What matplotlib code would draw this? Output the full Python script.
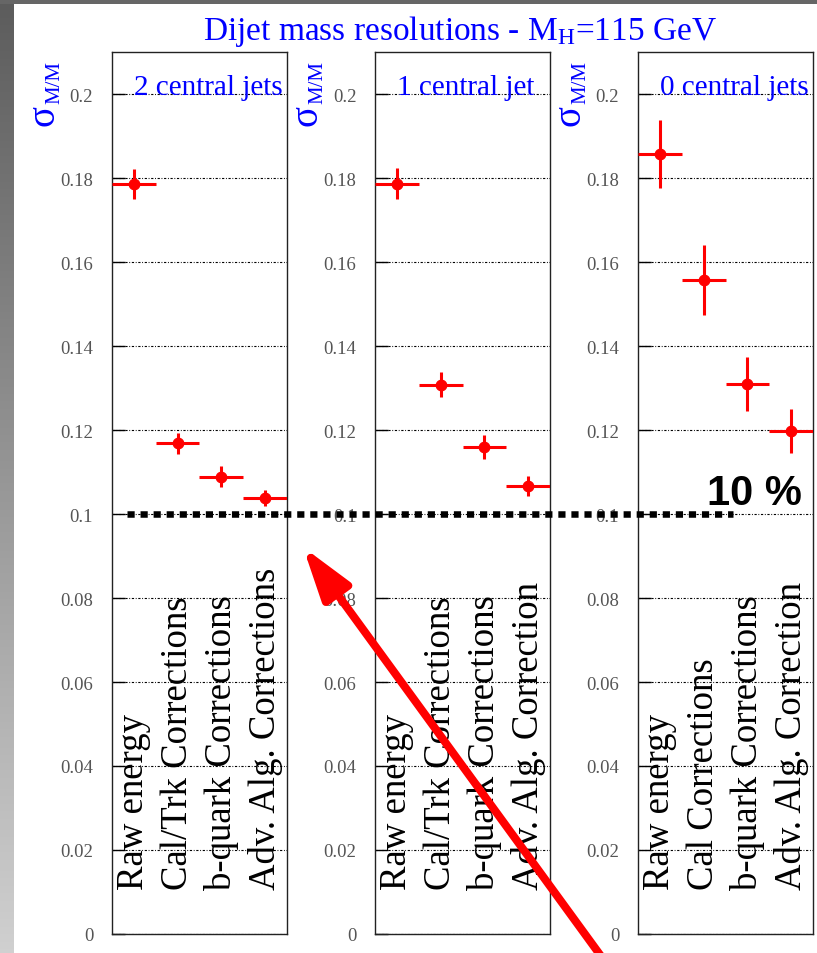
import numpy as np
import matplotlib

matplotlib.use("Agg")
import matplotlib.pyplot as plt
from matplotlib.lines import Line2D
from matplotlib.patches import FancyArrowPatch, Rectangle
from matplotlib.transforms import IdentityTransform
from matplotlib.colors import LinearSegmentedColormap

plt.rcParams["font.family"] = ["Liberation Serif", "DejaVu Serif"]
plt.rcParams["mathtext.fontset"] = "custom"
plt.rcParams["mathtext.rm"] = "Liberation Serif"
plt.rcParams["mathtext.it"] = "Liberation Serif"

# resolution sigma_M/M after each correction step, per jet topology
panel_titles = ["2 central jets", "1 central jet", "0 central jets"]

steps_2jets = ["Raw energy", "Cal/Trk Corrections", "b-quark Corrections", "Adv. Alg. Corrections"]
steps_1jet = ["Raw energy", "Cal/Trk Corrections", "b-quark Corrections", "Adv. Alg. Correction"]
steps_0jets = ["Raw energy", "Cal Corrections", "b-quark Corrections", "Adv. Alg. Correction"]

res_2jets = [0.1786, 0.1168, 0.1089, 0.1038]
err_2jets = [0.0036, 0.0025, 0.0025, 0.0020]

res_1jet = [0.1786, 0.1308, 0.1160, 0.1067]
err_1jet = [0.0037, 0.0030, 0.0029, 0.0024]

res_0jets = [0.1857, 0.1557, 0.1310, 0.1198]
err_0jets = [0.0081, 0.0083, 0.0064, 0.0052]

y_ticks = [0, 0.02, 0.04, 0.06, 0.08, 0.1, 0.12, 0.14, 0.16, 0.18, 0.2]
y_ticklabels = ["0", "0.02", "0.04", "0.06", "0.08", "0.1", "0.12", "0.14", "0.16", "0.18", "0.2"]
threshold = 0.1
threshold_label = "10 %"

W, H = 817, 954
fig = plt.figure(figsize=(W / 100, H / 100), dpi=100)
fig.patch.set_facecolor("white")

# grey slide border
gax = fig.add_axes([0, 0, 14 / W, 1])
grad = np.linspace(0, 1, 256).reshape(-1, 1)
gax.imshow(grad, cmap=LinearSegmentedColormap.from_list("edge", ["#5c5c5c", "#d0d0d0"]),
           aspect="auto")
gax.axis("off")
fig.add_artist(Rectangle((0, 1 - 5 / H), 1, 5 / H, transform=fig.transFigure,
                         color="#666666", lw=0))

serif = "Liberation Serif"
panels = [
    (steps_2jets, res_2jets, err_2jets),
    (steps_1jet, res_1jet, err_1jet),
    (steps_0jets, res_0jets, err_0jets),
]
lefts = [112, 375, 638]
axes = []
for i, (steps, res, err) in enumerate(panels):
    ax = fig.add_axes([lefts[i] / W, 19 / H, 175 / W, 882 / H])
    axes.append(ax)
    x = np.arange(len(res)) + 0.5
    ax.set_xlim(0, 4)
    ax.set_ylim(0, 0.21)
    ax.set_xticks([])
    ax.set_yticks(y_ticks)
    ax.set_yticklabels(y_ticklabels)
    ax.tick_params(axis="y", direction="in", length=9, width=1, pad=13.5,
                   labelsize=13.5, labelcolor="#555555")
    ax.yaxis.grid(True, linestyle=(0, (2, 1.5, 0.8, 1.5)), linewidth=0.8, color="black")
    ax.set_axisbelow(True)
    for sp in ax.spines.values():
        sp.set_linewidth(1)
        sp.set_color("#222222")

    ax.errorbar(x, res, xerr=0.5, yerr=err, fmt="o", color="red", ms=7.5,
                elinewidth=2.2, capsize=0, zorder=3)

    for xi, name in zip(x, steps):
        ax.text(xi, 0.0107, name, rotation=90, ha="center", va="bottom",
                fontsize=26.5, color="black")

    ax.text(0.5, 0.2, panel_titles[i], ha="left", va="baseline",
            fontsize=21, color="blue")
    # sigma_M/M axis label, drawn as symbol plus small subscript
    ax.text(-0.391, 0.9286, "σ", transform=ax.transAxes, rotation=90,
            ha="center", va="center", fontsize=28, color="blue")
    ax.text(-0.329, 0.967, "M/M", transform=ax.transAxes, rotation=90,
            ha="center", va="center", fontsize=15, color="blue")

fig.text(460 / W, 1 - 40 / H, r"Dijet mass resolutions - M$_{\mathrm{H}}$=115 GeV",
         ha="center", va="baseline", fontsize=24, color="blue")

# 10 % reference line running across all three panels
fig.add_artist(Line2D([0.343, 14.19], [threshold, threshold], transform=axes[0].transData,
                      color="black", lw=4.7, linestyle=(0, (1.1, 0.9)),
                      dash_capstyle="butt"))
axes[2].text(1.58, 0.1024, threshold_label, ha="left", va="baseline", fontsize=30,
             fontweight="bold", family="Liberation Sans", color="black")

# pointer arrow
fig.add_artist(FancyArrowPatch(posA=(606, -10), posB=(303, H - 548),
                               transform=IdentityTransform(),
                               arrowstyle="-|>,head_length=1.6,head_width=0.5",
                               mutation_scale=20, lw=5.8, color="red",
                               shrinkA=0, shrinkB=0))

fig.savefig("out.png", dpi=100)
